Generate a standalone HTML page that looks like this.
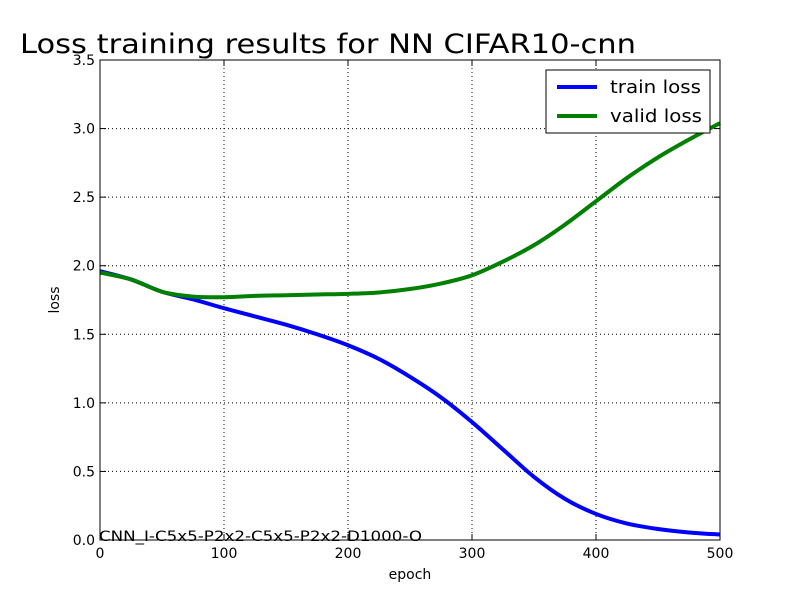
<!DOCTYPE html>
<html><head><meta charset="utf-8"><style>
body{margin:0;background:#fff;}
svg text{font-family:"DejaVu Sans","Liberation Sans",sans-serif;}
</style></head><body>
<svg id="chart" width="800" height="600" xmlns="http://www.w3.org/2000/svg">
<rect width="800" height="600" fill="#fff"/>
<text x="20" y="53" font-size="27" textLength="616" lengthAdjust="spacingAndGlyphs" fill="#000">Loss training results for NN CIFAR10-cnn</text>
<g id="grid"></g>
<g id="series"></g>
<rect x="100" y="60" width="620" height="480" fill="none" stroke="#000" stroke-width="1"/>
<g id="ticks"></g>
<text x="410" y="579" font-size="14" text-anchor="middle">epoch</text>
<text x="59" y="300" font-size="14" text-anchor="middle" transform="rotate(-90 59 300)">loss</text>
<text x="99" y="541" font-size="14" textLength="323" lengthAdjust="spacingAndGlyphs">CNN_I-C5x5-P2x2-C5x5-P2x2-D1000-O</text>
<g>
<rect x="546" y="70" width="164" height="63" fill="#fff" stroke="#000" stroke-width="1"/>
<g><line x1="557" y1="87" x2="597" y2="87" stroke="#0000ff" stroke-width="4"/><text x="610" y="93" font-size="18" textLength="91" lengthAdjust="spacingAndGlyphs">train loss</text></g>
<g><line x1="557" y1="116" x2="597" y2="116" stroke="#008000" stroke-width="4"/><text x="610" y="122" font-size="18" textLength="92" lengthAdjust="spacingAndGlyphs">valid loss</text></g>
</g>
</svg>
<script>
const epochs=[0,25,50,75,100,125,150,175,200,225,250,275,300,325,350,375,400,425,450,475,500];
const trainLoss=[1.96,1.90,1.81,1.755,1.69,1.63,1.57,1.50,1.42,1.32,1.19,1.04,0.86,0.66,0.46,0.30,0.19,0.12,0.08,0.055,0.04];
const validLoss=[1.95,1.90,1.81,1.775,1.77,1.78,1.785,1.79,1.795,1.805,1.83,1.87,1.93,2.03,2.15,2.30,2.47,2.64,2.79,2.92,3.04];
const xTicks=[0,100,200,300,400,500];
const yTicks=[0.0,0.5,1.0,1.5,2.0,2.5,3.0,3.5];
const NS="http://www.w3.org/2000/svg";
const x=v=>100+v/500*620, y=v=>540-v/3.5*480;
const grid=document.getElementById('grid'),ticks=document.getElementById('ticks'),series=document.getElementById('series');
function mk(tag,attrs,parent){const e=document.createElementNS(NS,tag);for(const k in attrs)e.setAttribute(k,attrs[k]);parent.appendChild(e);return e;}
xTicks.forEach(t=>{
 if(t>0&&t<500){const g=mk('line',{x1:x(t),x2:x(t),y1:60,y2:540,stroke:'#000','stroke-dasharray':'1,3','stroke-width':1},grid);
 
 }
 mk('line',{x1:x(t),x2:x(t),y1:540,y2:534,stroke:'#000'},ticks);
 mk('line',{x1:x(t),x2:x(t),y1:60,y2:66,stroke:'#000'},ticks);
 const l=mk('text',{x:x(t),y:558,'font-size':14,'text-anchor':'middle'},ticks);l.textContent=t;
 
 
});
yTicks.forEach(t=>{
 if(t>0&&t<3.5){const g=mk('line',{x1:100,x2:720,y1:y(t),y2:y(t),stroke:'#000','stroke-dasharray':'1,3','stroke-width':1},grid);
 
 }
 mk('line',{x1:100,x2:106,y1:y(t),y2:y(t),stroke:'#000'},ticks);
 mk('line',{x1:714,x2:720,y1:y(t),y2:y(t),stroke:'#000'},ticks);
 const l=mk('text',{x:95,y:y(t)+5,'font-size':14,'text-anchor':'end'},ticks);l.textContent=t.toFixed(1);
 
 
});
function path(vals){
 const p=epochs.map((e,i)=>[x(e),y(vals[i])]);
 let d='M'+p[0][0]+','+p[0][1];
 for(let i=0;i<p.length-1;i++){
  const p0=p[Math.max(i-1,0)],p1=p[i],p2=p[i+1],p3=p[Math.min(i+2,p.length-1)];
  d+=' C'+(p1[0]+(p2[0]-p0[0])/6)+','+(p1[1]+(p2[1]-p0[1])/6)+' '+(p2[0]-(p3[0]-p1[0])/6)+','+(p2[1]-(p3[1]-p1[1])/6)+' '+p2[0]+','+p2[1];
 }
 return d;
}
const tr=mk('path',{d:path(trainLoss),fill:'none',stroke:'#0000ff','stroke-width':4},series);


const va=mk('path',{d:path(validLoss),fill:'none',stroke:'#008000','stroke-width':4},series);


</script>
</body></html>
